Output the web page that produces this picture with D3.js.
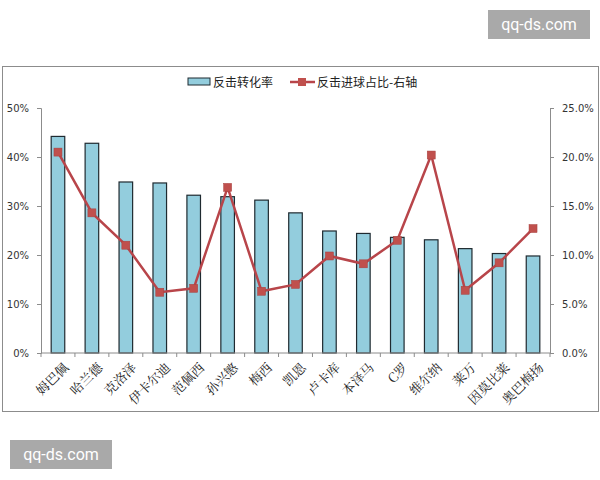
<!DOCTYPE html>
<html>
<head>
<meta charset="utf-8">
<script src="https://cdn.jsdelivr.net/npm/d3@7"></script>
<style>
  body { margin: 0; background: #fff; }
  svg { display: block; font-family: "Noto Sans CJK SC", "DejaVu Sans", sans-serif; }
</style>
</head>
<body>
<svg width="600" height="480"></svg>
<script>
let players = ['姆巴佩', '哈兰德', '克洛泽', '伊卡尔迪', '范佩西', '孙兴慜', '梅西', '凯恩',
    '卢卡库', '本泽马', 'C罗', '维尔纳', '莱万', '因莫比莱', '奥巴梅扬']
// 反击转化率 (left axis)
let convRate = [0.442, 0.428, 0.349, 0.347, 0.322, 0.319, 0.312, 0.286,
    0.249, 0.244, 0.236, 0.231, 0.213, 0.203, 0.198]
// 反击进球占比 (right axis)
let goalShare = [0.205, 0.143, 0.110, 0.062, 0.066, 0.169, 0.063, 0.070,
    0.099, 0.091, 0.115, 0.202, 0.064, 0.092, 0.127]
let leftTicks = [0, 0.1, 0.2, 0.3, 0.4, 0.5]
let rightTicks = [0, 0.05, 0.1, 0.15, 0.2, 0.25]

let svg = d3.select('svg')

// watermarks
let marks = [{ x: 488, y: 10 }, { x: 10, y: 440 }]
marks.forEach(m => {
    svg.append('rect').attr('x', m.x).attr('y', m.y).attr('width', 102).attr('height', 29)
        .attr('fill', '#a9a9a9')
    svg.append('text').attr('x', m.x + 51).attr('y', m.y + 20).attr('text-anchor', 'middle')
        .attr('fill', '#fff').style('font-size', '16px').style('font-family', 'Roboto, sans-serif')
        .text('qq-ds.com')
})

// chart frame
svg.append('rect').attr('x', 2.5).attr('y', 66.5).attr('width', 596).attr('height', 345)
    .attr('fill', '#fff').attr('stroke', '#8c8c8c').attr('stroke-width', 1)

let plotL = 41, plotR = 550, plotT = 108, plotB = 353

let x = d3.scaleBand().domain(players).range([plotL, plotR]).paddingInner(0).paddingOuter(0)
let yL = d3.scaleLinear().domain([0, 0.5]).range([plotB, plotT])
let yR = d3.scaleLinear().domain([0, 0.25]).range([plotB, plotT])

// bars
let barW = x.bandwidth() * 0.4
svg.append('g').selectAll('rect')
    .data(convRate)
    .enter()
    .append('rect')
    .attr('x', (d, i) => x(players[i]) + (x.bandwidth() - barW) / 2)
    .attr('y', d => yL(d))
    .attr('width', barW)
    .attr('height', d => plotB - yL(d))
    .attr('fill', '#93cddd')
    .attr('stroke', '#1f2a30')
    .attr('stroke-width', 1.2)

// axes
let axisColor = '#8c8c8c'
let gL = svg.append('g').attr('transform', `translate(${plotL},0)`)
    .call(d3.axisLeft(yL).tickValues(leftTicks).tickFormat(d3.format('.0%')).tickSize(4).tickPadding(8))
let gR = svg.append('g').attr('transform', `translate(${plotR},0)`)
    .call(d3.axisRight(yR).tickValues(rightTicks).tickFormat(d3.format('.1%')).tickSize(4).tickPadding(8))
;[gL, gR].forEach(g => {
    g.select('.domain').attr('stroke', axisColor)
    g.selectAll('.tick line').attr('stroke', axisColor)
    g.selectAll('.tick text').attr('fill', '#333').style('font-size', '10px')
        .style('font-family', '"DejaVu Sans", Verdana, sans-serif')
})

let gX = svg.append('g').attr('transform', `translate(0,${plotB})`)
gX.append('line').attr('x1', plotL).attr('x2', plotR).attr('stroke', axisColor)
gX.selectAll('line.tk')
    .data(players.concat(['end']))
    .enter()
    .append('line')
    .attr('class', 'tk')
    .attr('x1', (d, i) => plotL + i * x.step())
    .attr('x2', (d, i) => plotL + i * x.step())
    .attr('y1', 0).attr('y2', 4)
    .attr('stroke', axisColor)

gX.selectAll('text')
    .data(players)
    .enter()
    .append('text')
    .attr('transform', d => `translate(${x(d) + x.bandwidth() / 2 + 5},9) rotate(-45)`)
    .attr('text-anchor', 'end')
    .attr('dy', '0.7em')
    .attr('fill', '#222')
    .style('font-size', '13px')
    .style('font-family', '"Noto Serif CJK SC", "Noto Sans CJK SC", serif')
    .text(d => d)

// line series
let lineColor = '#b8454a'
let line = d3.line()
    .x((d, i) => x(players[i]) + x.bandwidth() / 2)
    .y(d => yR(d))
svg.append('path').datum(goalShare)
    .attr('d', line)
    .attr('fill', 'none')
    .attr('stroke', lineColor)
    .attr('stroke-width', 2.5)

svg.append('g').selectAll('rect')
    .data(goalShare)
    .enter()
    .append('rect')
    .attr('x', (d, i) => x(players[i]) + x.bandwidth() / 2 - 4)
    .attr('y', d => yR(d) - 4)
    .attr('width', 8).attr('height', 8)
    .attr('fill', '#c0504d')
    .attr('stroke', '#a8403f')
    .attr('stroke-width', 0.5)

// legend
let legend = svg.append('g').attr('class', 'legend')
legend.append('rect').attr('x', 188).attr('y', 78).attr('width', 22).attr('height', 7)
    .attr('fill', '#93cddd').attr('stroke', '#1f2a30')
legend.append('text').attr('x', 213).attr('y', 86.5).text('反击转化率')
    .style('font-size', '12px').attr('fill', '#222')
legend.append('line').attr('x1', 290).attr('x2', 315).attr('y1', 82).attr('y2', 82)
    .attr('stroke', lineColor).attr('stroke-width', 2.5)
legend.append('rect').attr('x', 298).attr('y', 78).attr('width', 8).attr('height', 8)
    .attr('fill', '#c0504d')
legend.append('text').attr('x', 317).attr('y', 86.5).text('反击进球占比-右轴')
    .style('font-size', '12px').attr('fill', '#222')
</script>
</body>
</html>
